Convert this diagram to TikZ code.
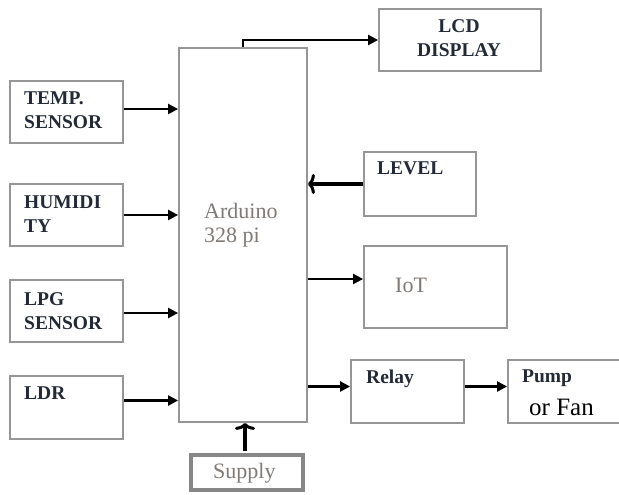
\documentclass[tikz,border=0pt]{standalone}
\usepackage{fontspec}
\setmainfont{Liberation Serif}
\usetikzlibrary{arrows.meta,fit,calc}
\definecolor{boxgray}{RGB}{150,150,150}
\definecolor{txtdark}{RGB}{35,42,55}
\definecolor{txtgray}{RGB}{128,122,118}
\tikzset{
  blk/.style={draw=boxgray, line width=1.8pt, inner sep=0pt, fill=white},
  lbl/.style={anchor=north west, inner sep=0pt, align=left, text=txtdark,
    font=\fontsize{19.5}{24}\selectfont\bfseries},
  glbl/.style={anchor=north west, inner sep=0pt, align=left, text=txtgray,
    font=\fontsize{22}{24}\selectfont},
  arr/.style={line width=2.2pt, -{Triangle[length=10pt,width=10pt]}},
  thickarr/.style={line width=3.2pt, -{To[length=7pt,width=20pt,line width=3pt]}}
}
\begin{document}
\begin{tikzpicture}[x=1pt,y=-1pt]
\useasboundingbox (0,0) rectangle (619,495);
% blocks
\node[blk, fit={(10,81) (123,143)}] (temp) {};
\node[blk, fit={(10,184) (123,246)}] (hum) {};
\node[blk, fit={(10,280) (123,342)}] (lpg) {};
\node[blk, fit={(10,376) (123,439)}] (ldr) {};
\node[blk, fit={(179,48) (307,422)}] (ard) {};
\node[blk, draw=boxgray!90!black, line width=3.8pt, fit={(191,455) (303,490)}] (supply) {};
\node[blk, fit={(379,9) (541,71)}] (lcd) {};
\node[blk, fit={(364,152) (476,216)}] (level) {};
\node[blk, fit={(364,246) (507,328)}] (iot) {};
\node[blk, fit={(351,360) (464,423)}] (relay) {};
\node[blk, fit={(508,360) (621,423)}] (pump) {};
% labels
\node[lbl] (tTemp) at (24,92) {TEMP.\\SENSOR};
\node[lbl] (tHum) at (24,196) {HUMIDI\\TY};
\node[lbl] (tLpg) at (24,292) {LPG\\SENSOR};
\node[lbl] (tLdr) at (24,387) {LDR};
\node[glbl] (tArd) at (204,203) {Arduino\\328 pi};
\node[glbl] (tSup) at (213,463) {Supply};
\node[lbl, anchor=north, align=center] (tLcd) at (459,19) {LCD\\DISPLAY};
\node[lbl] (tLev) at (377,162) {LEVEL};
\node[glbl] (tIot) at (395,278) {IoT};
\node[lbl] (tRel) at (366,370) {Relay};
\node[lbl] (tPump) at (522,370) {Pump};
\node[anchor=north west, inner sep=0pt, font=\fontsize{25}{25}\selectfont] (tFan) at (529,399) {or Fan};
% connectors
\draw[arr] ([yshift=3pt]temp.east) -- ([yshift=3pt]temp.east -| ard.west);
\draw[arr] (hum.east) -- (hum.east -| ard.west);
\draw[arr] ([yshift=-2pt]lpg.east) -- ([yshift=-2pt]lpg.east -| ard.west);
\draw[arr] ([yshift=7pt]ldr.east) -- ([yshift=7pt]ldr.east -| ard.west);
\draw[arr] (ard.north) |- (lcd.west);
\draw[thickarr] (level.west) -- (level.west -| ard.east);
\draw[arr] ([yshift=8pt]iot.west -| ard.east) -- ([yshift=8pt]iot.west);
\draw[arr] ([yshift=5pt]relay.west -| ard.east) -- ([yshift=5pt]relay.west);
\draw[arr] ([yshift=5pt]relay.east -| relay.east) -- ([yshift=5pt]relay.east -| pump.west);
\draw[thickarr] ([xshift=-2pt,yshift=2pt]supply.north) -- ([xshift=-2pt]supply.north |- ard.south);
\end{tikzpicture}
\end{document}
